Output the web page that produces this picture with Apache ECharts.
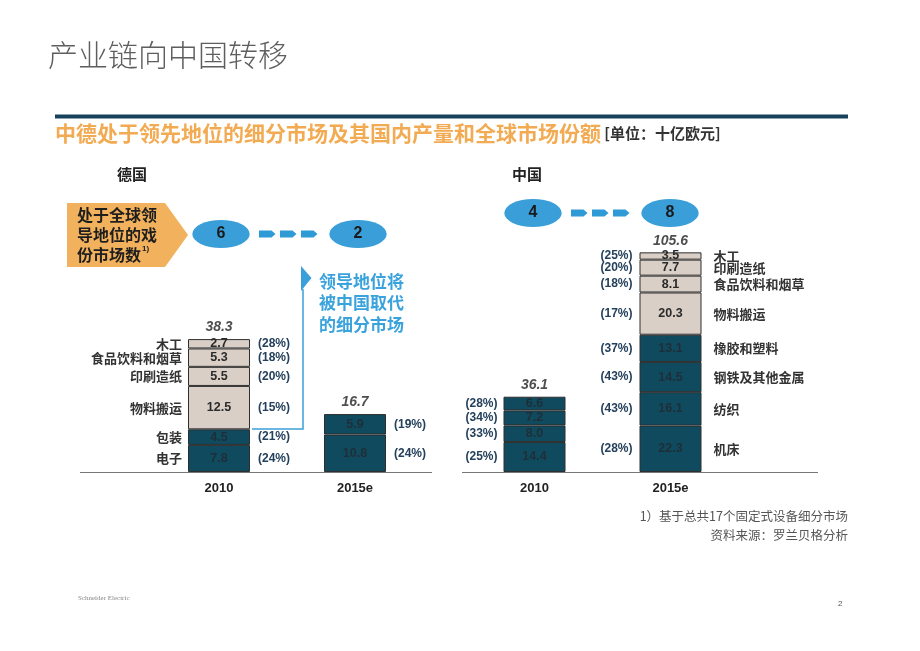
<!DOCTYPE html>
<html>
<head>
<meta charset="utf-8">
<script src="https://cdn.jsdelivr.net/npm/echarts@6/dist/echarts.min.js"></script>
<style>
html,body{margin:0;padding:0;background:#fff;}
#c{width:920px;height:651px;}
</style>
</head>
<body>
<div id="c"></div>
<script>
// ---------- data ----------
const yearCategories = ['2010', '2015e'];

// Germany (bottom to top)
const de2010Values = [7.8, 4.5, 12.5, 5.5, 5.3, 2.7];
const de2010Names = ['电子', '包装', '物料搬运', '印刷造纸', '食品饮料和烟草', '木工'];
const de2010Shares = ['(24%)', '(21%)', '(15%)', '(20%)', '(18%)', '(28%)'];
const de2010Lost = [true, true, false, false, false, false];
const de2015Values = [10.8, 5.9];
const de2015Shares = ['(24%)', '(19%)'];
const deTotals = [38.3, 16.7];
const deLeaderCounts = [6, 2];

// China (bottom to top)
const cn2010Values = [14.4, 8.0, 7.2, 6.6];
const cn2010Shares = ['(25%)', '(33%)', '(34%)', '(28%)'];
const cn2015Values = [22.3, 16.1, 14.5, 13.1, 20.3, 8.1, 7.7, 3.5];
const cn2015Names = ['机床', '纺织', '钢铁及其他金属', '橡胶和塑料', '物料搬运', '食品饮料和烟草', '印刷造纸', '木工'];
const cn2015Shares = ['(28%)', '(43%)', '(43%)', '(37%)', '(17%)', '(18%)', '(20%)', '(25%)'];
const cn2015Dark = [true, true, true, true, false, false, false, false];
const cnTotals = [36.1, 105.6];
const cnLeaderCounts = [4, 8];

// ---------- styles ----------
const DARK = '#0f4a5f';
const BEIGE = '#d9cfc7';
const BORDER = '#2e2e2e';
const SHARE_COLOR = '#24405c';
const FONT = 'Arial, "Liberation Sans", "Noto Sans CJK SC", sans-serif';
const CJK = '"Noto Sans CJK SC", sans-serif';
const BAR_W = 62;

const series = [];

function addStack(g, catIdx, values, darkFlags, names, nameSide, nameDist, shares, shareSide, shareDist) {
  values.forEach((v, i) => {
    const d = ['-', '-'];
    d[catIdx] = v;
    const dark = darkFlags[i];
    series.push({
      type: 'bar', xAxisIndex: g, yAxisIndex: g, stack: 'v' + g,
      barWidth: BAR_W, barGap: '-100%', silent: true, data: d.slice(),
      itemStyle: { color: dark ? DARK : BEIGE, borderColor: BORDER, borderWidth: 1 },
      label: {
        show: true, position: 'inside',
        formatter: p => Number(p.value).toFixed(1),
        color: dark ? '#1f2f38' : '#2a2a2a', fontWeight: 'bold', fontSize: 12.5, fontFamily: FONT
      },
      z: 2
    });
    if (names) {
      series.push({
        type: 'bar', xAxisIndex: g, yAxisIndex: g, stack: 'n' + g,
        barWidth: BAR_W, barGap: '-100%', silent: true, data: d.slice(),
        itemStyle: { color: 'rgba(0,0,0,0)' },
        label: {
          show: true, position: nameSide, distance: nameDist,
          formatter: names[i], color: '#333', fontWeight: 'bold', fontSize: 13, fontFamily: CJK
        },
        z: 3
      });
    }
    if (shares) {
      series.push({
        type: 'bar', xAxisIndex: g, yAxisIndex: g, stack: 's' + g,
        barWidth: BAR_W, barGap: '-100%', silent: true, data: d.slice(),
        itemStyle: { color: 'rgba(0,0,0,0)' },
        label: {
          show: true, position: shareSide, distance: shareDist,
          formatter: shares[i], color: SHARE_COLOR, fontWeight: 'bold', fontSize: 12, fontFamily: FONT
        },
        z: 3
      });
    }
  });
}

addStack(0, 0, de2010Values, de2010Lost, de2010Names, 'left', 6, de2010Shares, 'right', 8);
addStack(0, 1, de2015Values, [true, true], null, null, 0, de2015Shares, 'right', 8);
addStack(1, 0, cn2010Values, [true, true, true, true], null, null, 0, cn2010Shares, 'left', 6);
addStack(1, 1, cn2015Values, cn2015Dark, cn2015Names, 'right', 12, cn2015Shares, 'left', 7);

[deTotals, cnTotals].forEach((t, g) => {
  series.push({
    type: 'scatter', xAxisIndex: g, yAxisIndex: g, data: t, symbolSize: 1, silent: true,
    itemStyle: { color: 'rgba(0,0,0,0)' },
    label: {
      show: true, position: 'top', distance: 4,
      formatter: p => Number(p.value).toFixed(1),
      color: '#222', fontWeight: 'bold', fontStyle: 'italic', fontSize: 14, fontFamily: FONT
    },
    z: 4
  });
});

function xAx(g) {
  return {
    type: 'category', gridIndex: g, data: yearCategories,
    axisLine: { show: false }, axisTick: { show: false },
    axisLabel: { color: '#222', fontWeight: 'bold', fontSize: 13, fontFamily: FONT, margin: 10 }
  };
}
function yAx(g, max) {
  return { type: 'value', gridIndex: g, min: 0, max: max, show: false, splitLine: { show: false } };
}

// ---------- annotations ----------
const graphic = [];
function txt(x, y, text, style) {
  graphic.push({ type: 'text', x, y, style: Object.assign({ text, fontFamily: CJK }, style), silent: true });
}
// Title
txt(48, 55, '产业链向中国转移', { fontSize: 30, fontWeight: 300, fill: '#5e5e5e', textVerticalAlign: 'middle' });
// rule
graphic.push({ type: 'line', shape: { x1: 55, y1: 116.5, x2: 848, y2: 116.5 }, style: { stroke: '#17425c', lineWidth: 4 }, silent: true });
// subtitle
graphic.push({
  type: 'text', x: 55, y: 133, silent: true,
  style: {
    text: '{o|中德处于领先地位的细分市场及其国内产量和全球市场份额} {u|[单位：十亿欧元]}',
    textVerticalAlign: 'middle',
    rich: {
      o: { fontSize: 21, fontWeight: 'bold', fill: '#f2ab52', fontFamily: CJK },
      u: { fontSize: 15, fontWeight: 'bold', fill: '#333', fontFamily: CJK }
    }
  }
});
// section labels
txt(117, 174, '德国', { fontSize: 15, fontWeight: 'bold', fill: '#222', textVerticalAlign: 'middle' });
txt(512, 174, '中国', { fontSize: 15, fontWeight: 'bold', fill: '#222', textVerticalAlign: 'middle' });

// orange pentagon
graphic.push({ type: 'polygon', shape: { points: [[67, 203], [165, 203], [188, 235], [165, 267], [67, 267]] }, style: { fill: '#f2b15c' }, silent: true });
graphic.push({
  type: 'text', x: 77, y: 235, silent: true,
  style: {
    text: '处于全球领\n导地位的戏\n份市场数{s|1)}',
    fontSize: 16, fontWeight: 'bold', fill: '#1e1e1e', fontFamily: CJK,
    lineHeight: 20, textVerticalAlign: 'middle',
    rich: { s: { fontSize: 8, fontWeight: 'bold', fill: '#1e1e1e', verticalAlign: 'top', lineHeight: 20, padding: [0, 0, 8, 1] } }
  }
});

// ellipses and dashed arrows
function ellipse(cx, cy, val) {
  graphic.push({ type: 'circle', x: cx, y: cy, scaleX: 2.05, shape: { cx: 0, cy: 0, r: 14 }, style: { fill: '#3a9fd9' }, silent: true });
  graphic.push({ type: 'text', x: cx, y: cy, style: { text: String(val), fontSize: 16, fontWeight: 'bold', fill: '#1a1a1a', fontFamily: FONT, textAlign: 'center', textVerticalAlign: 'middle' }, silent: true });
}
function dashes(x0, y) {
  for (let k = 0; k < 3; k++) {
    const x = x0 + k * 21;
    graphic.push({ type: 'polygon', shape: { points: [[x, y - 3.5], [x + 12.5, y - 3.5], [x + 16.5, y], [x + 12.5, y + 3.5], [x, y + 3.5]] }, style: { fill: '#2e9ad6' }, silent: true });
  }
}
ellipse(221, 234, deLeaderCounts[0]);
ellipse(358, 234, deLeaderCounts[1]);
dashes(259, 234);
ellipse(533, 213, cnLeaderCounts[0]);
ellipse(670, 213, cnLeaderCounts[1]);
dashes(571, 213);

// blue bracket
graphic.push({ type: 'polyline', shape: { points: [[252, 429], [303, 429], [303, 289]] }, style: { stroke: '#3ba0d9', lineWidth: 1.5, fill: null }, silent: true });
graphic.push({ type: 'polygon', shape: { points: [[301, 266], [311.5, 278], [301, 291]] }, style: { fill: '#3ba0d9' }, silent: true });
txt(319, 303, '领导地位将\n被中国取代\n的细分市场', { fontSize: 17, fontWeight: 'bold', fill: '#3aa2dc', lineHeight: 21.5, textVerticalAlign: 'middle' });

// baselines
graphic.push({ type: 'line', shape: { x1: 80, y1: 472.5, x2: 432, y2: 472.5 }, style: { stroke: '#777', lineWidth: 1 }, silent: true });
graphic.push({ type: 'line', shape: { x1: 462, y1: 472.5, x2: 818, y2: 472.5 }, style: { stroke: '#777', lineWidth: 1 }, silent: true });

// footnotes
txt(848, 516, '1）基于总共17个固定式设备细分市场', { fontSize: 12.5, fill: '#555', textAlign: 'right', textVerticalAlign: 'middle' });
txt(848, 535, '资料来源：罗兰贝格分析', { fontSize: 12.5, fill: '#555', textAlign: 'right', textVerticalAlign: 'middle' });
txt(78, 598, 'Schneider Electric', { fontSize: 7, fill: '#888', fontFamily: '"Liberation Serif", serif', textVerticalAlign: 'middle' });
txt(838, 604, '2', { fontSize: 8, fill: '#555', fontFamily: FONT, textVerticalAlign: 'middle' });

const chart = echarts.init(document.getElementById('c'), null, { renderer: 'canvas' });
chart.setOption({
  animation: false,
  backgroundColor: '#fff',
  grid: [
    { left: 151, width: 272, top: 472 - 40 * 3.47, height: 40 * 3.47 },
    { left: 466.5, width: 272, top: 472 - 110 * 2.08, height: 110 * 2.08 }
  ],
  xAxis: [xAx(0), xAx(1)],
  yAxis: [yAx(0, 40), yAx(1, 110)],
  series: series,
  graphic: graphic
});
</script>
</body>
</html>
